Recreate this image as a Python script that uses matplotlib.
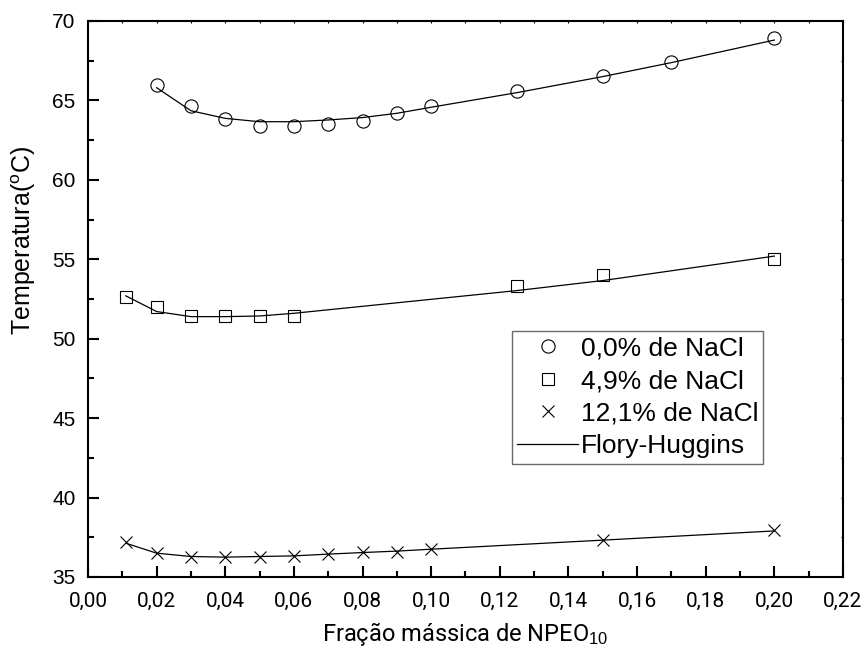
import matplotlib
matplotlib.use("Agg")
import matplotlib.pyplot as plt
import numpy as np
from matplotlib.ticker import MultipleLocator, FuncFormatter

plt.rcParams['font.family'] = ['Liberation Sans', 'DejaVu Sans']
plt.rcParams['mathtext.fontset'] = 'custom'
plt.rcParams['mathtext.rm'] = 'Liberation Sans'
plt.rcParams['mathtext.it'] = 'Liberation Sans'

NARROW = ['Liberation Sans Narrow', 'Roboto', 'DejaVu Sans']

# experimental points
x0 = [0.02, 0.03, 0.04, 0.05, 0.06, 0.07, 0.08, 0.09, 0.10, 0.125, 0.15, 0.17, 0.20]
t0 = [66.0, 64.65, 63.8, 63.4, 63.4, 63.5, 63.7, 64.2, 64.65, 65.6, 66.55, 67.4, 68.9]

x49 = [0.011, 0.02, 0.03, 0.04, 0.05, 0.06, 0.125, 0.15, 0.20]
t49 = [52.65, 52.0, 51.4, 51.4, 51.4, 51.4, 53.3, 54.0, 55.0]

x121 = [0.011, 0.02, 0.03, 0.04, 0.05, 0.06, 0.07, 0.08, 0.09, 0.10, 0.15, 0.20]
t121 = [37.2, 36.5, 36.25, 36.25, 36.25, 36.3, 36.45, 36.55, 36.6, 36.75, 37.35, 37.95]

# Flory-Huggins curves
fh0 = [65.8, 64.35, 63.87, 63.66, 63.66, 63.77, 63.92, 64.19, 64.57, 65.49, 66.5, 67.38, 68.8]
fh49 = [52.7, 51.71, 51.39, 51.39, 51.43, 51.6, 53.03, 53.66, 55.2]
fh121 = [37.13, 36.5, 36.29, 36.25, 36.29, 36.33, 36.44, 36.54, 36.63, 36.75, 37.32, 37.9]

fig = plt.figure(figsize=(8.67, 6.62), dpi=100)
ax = fig.add_axes([0.1015, 0.1284, 0.8708, 0.8399])

lw = 0.9
ax.plot(x0, fh0, '-', color='black', lw=lw)
ax.plot(x49, fh49, '-', color='black', lw=lw)
ax.plot(x121, fh121, '-', color='black', lw=lw)

h1, = ax.plot(x0, t0, 'o', mfc='none', mec='black', ms=9.5, mew=0.8, label='0,0% de NaCl')
h2, = ax.plot(x49, t49, 's', mfc='none', mec='black', ms=8, mew=0.8, label='4,9% de NaCl')
h3, = ax.plot(x121, t121, 'x', color='black', ms=9, mew=0.8, label='12,1% de NaCl')
h4, = ax.plot([], [], '-', color='black', lw=lw, label='Flory-Huggins')

ax.set_xlim(0, 0.22)
ax.set_ylim(35, 70)
ax.xaxis.set_major_locator(MultipleLocator(0.02))
ax.xaxis.set_minor_locator(MultipleLocator(0.01))
ax.yaxis.set_major_locator(MultipleLocator(5))
ax.yaxis.set_minor_locator(MultipleLocator(2.5))
ax.xaxis.set_major_formatter(FuncFormatter(lambda v, p: f"{v:.2f}".replace('.', ',')))

for s in ax.spines.values():
    s.set_linewidth(1.5)

ax.tick_params(which='major', direction='in', length=8, width=1.5, labelsize=15,
               bottom=True, left=True)
ax.tick_params(which='minor', direction='in', length=4.3, width=1.5,
               bottom=True, left=True)
ax.tick_params(which='both', top=True, right=True)
ax.tick_params(axis='x', which='major', pad=11)
ax.tick_params(axis='y', which='major', pad=9)
# tiny ticks on the top and right spines
for t in ax.xaxis.get_major_ticks() + ax.xaxis.get_minor_ticks():
    t.tick2line.set_markersize(1.5)
    t.tick2line.set_markeredgewidth(0.8)
for t in ax.yaxis.get_major_ticks() + ax.yaxis.get_minor_ticks():
    t.tick2line.set_markersize(1.5)
    t.tick2line.set_markeredgewidth(0.8)
for lab in ax.get_xticklabels():
    lab.set_fontfamily(NARROW)
    lab.set_fontsize(15)

ax.set_ylabel('Temperatura($^{\\mathrm{o}}$C)', fontsize=18)
ax.yaxis.set_label_coords(-0.066, 0.606)
ax.set_xlabel('Fração mássica de NPEO$_{10}$', fontsize=17, labelpad=6,
              family=NARROW)

leg = ax.legend(handles=[h1, h2, h3, h4], loc='upper left',
                bbox_to_anchor=(0.5616, 0.4424), fontsize=19, frameon=True,
                fancybox=False, edgecolor='#444444', handlelength=2.3,
                handletextpad=0.1, borderpad=0.2, labelspacing=0.33,
                borderaxespad=0)
leg.get_frame().set_linewidth(1.0)

fig.savefig('out.png', dpi=100)
